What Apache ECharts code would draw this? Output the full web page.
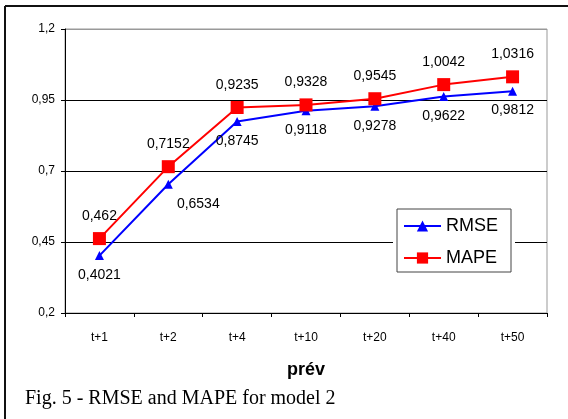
<!DOCTYPE html>
<html>
<head>
<meta charset="utf-8">
<script src="https://cdn.jsdelivr.net/npm/echarts@6/dist/echarts.min.js"></script>
<style>html,body{margin:0;padding:0;background:#fff;}#c{width:568px;height:419px;}</style>
</head>
<body>
<div id="c"></div>
<script>
var categories = ['t+1', 't+2', 't+4', 't+10', 't+20', 't+40', 't+50'];
var rmse = [0.4021, 0.6534, 0.8745, 0.9118, 0.9278, 0.9622, 0.9812];
var mape = [0.462, 0.7152, 0.9235, 0.9328, 0.9545, 1.0042, 1.0316];
var yTicks = [0.2, 0.45, 0.7, 0.95, 1.2];
var seriesNames = ['RMSE', 'MAPE'];
var caption = 'Fig. 5 - RMSE and MAPE for model 2';
var xName = 'prév';

function fmt(v) { return String(v).replace('.', ','); }

var chart = echarts.init(document.getElementById('c'), null, {renderer: 'canvas'});
var rmseData = rmse.map(function (v, i) {
  var d = {value: v};
  if (i === 1) d.label = {offset: [30, 0]};
  return d;
});
chart.setOption({
  animation: false,
  backgroundColor: '#fff',
  title: {
    text: caption,
    left: 25, top: 389,
    padding: 0,
    textStyle: {fontFamily: 'Liberation Serif', fontSize: 20, fontWeight: 'normal', color: '#000'}
  },
  graphic: [
    {type: 'line', shape: {x1: 5, y1: 6, x2: 568, y2: 6}, style: {stroke: '#111', lineWidth: 2}},
    {type: 'line', shape: {x1: 5, y1: 6, x2: 5, y2: 419}, style: {stroke: '#111', lineWidth: 2}},
    {type: 'rect', shape: {x: 393, y: 205, width: 122, height: 70}, style: {fill: '#fff'}, z: 3}
  ],
  grid: {left: 65, top: 29, right: 21, bottom: 106, show: true, borderColor: '#999', borderWidth: 1, containLabel: false},
  legend: {
    data: seriesNames,
    orient: 'vertical',
    left: 397, top: 209,
    padding: [8, 13, 5, 6],
    itemWidth: 37, itemHeight: 14,
    itemGap: 14,
    backgroundColor: '#fff',
    borderColor: '#444', borderWidth: 1,
    textStyle: {fontFamily: 'Arial, Liberation Sans', fontSize: 18, color: '#000'},
    z: 5
  },
  xAxis: {
    type: 'category',
    data: categories,
    boundaryGap: true,
    name: xName,
    nameLocation: 'middle',
    nameGap: 48,
    nameTextStyle: {fontFamily: 'Arial, Liberation Sans', fontSize: 18, fontWeight: 'bold', color: '#000'},
    axisLine: {lineStyle: {color: '#000', width: 1}},
    axisTick: {show: true, length: 4, lineStyle: {color: '#000'}},
    axisLabel: {margin: 19, fontFamily: 'Arial, Liberation Sans', fontSize: 12, color: '#000'},
    splitLine: {show: false}
  },
  yAxis: {
    type: 'value',
    min: yTicks[0], max: yTicks[yTicks.length - 1],
    interval: yTicks[1] - yTicks[0],
    axisLine: {show: true, lineStyle: {color: '#000', width: 1}},
    axisTick: {show: true, length: 4, lineStyle: {color: '#000'}},
    axisLabel: {margin: 10, fontFamily: 'Arial, Liberation Sans', fontSize: 12, color: '#000',
      formatter: function (v) { return fmt(Math.round(v * 100) / 100); }},
    splitLine: {show: true, lineStyle: {color: ['#000', '#000', '#000', '#000', '#999'], width: 1}}
  },
  series: [
    {
      name: seriesNames[0], type: 'line', data: rmseData,
      symbol: 'triangle', symbolSize: 9, showAllSymbol: true,
      lineStyle: {color: '#0000ff', width: 2},
      itemStyle: {color: '#0000ff'},
      label: {show: true, position: 'bottom', distance: 8, fontFamily: 'Arial, Liberation Sans', fontSize: 14, color: '#000',
        formatter: function (p) { return fmt(p.value); }}
    },
    {
      name: seriesNames[1], type: 'line', data: mape,
      symbol: 'rect', symbolSize: 13, showAllSymbol: true,
      lineStyle: {color: '#ff0000', width: 2},
      itemStyle: {color: '#ff0000'},
      label: {show: true, position: 'top', distance: 9, fontFamily: 'Arial, Liberation Sans', fontSize: 14, color: '#000',
        formatter: function (p) { return fmt(p.value); }}
    }
  ]
});
</script>
</body>
</html>
